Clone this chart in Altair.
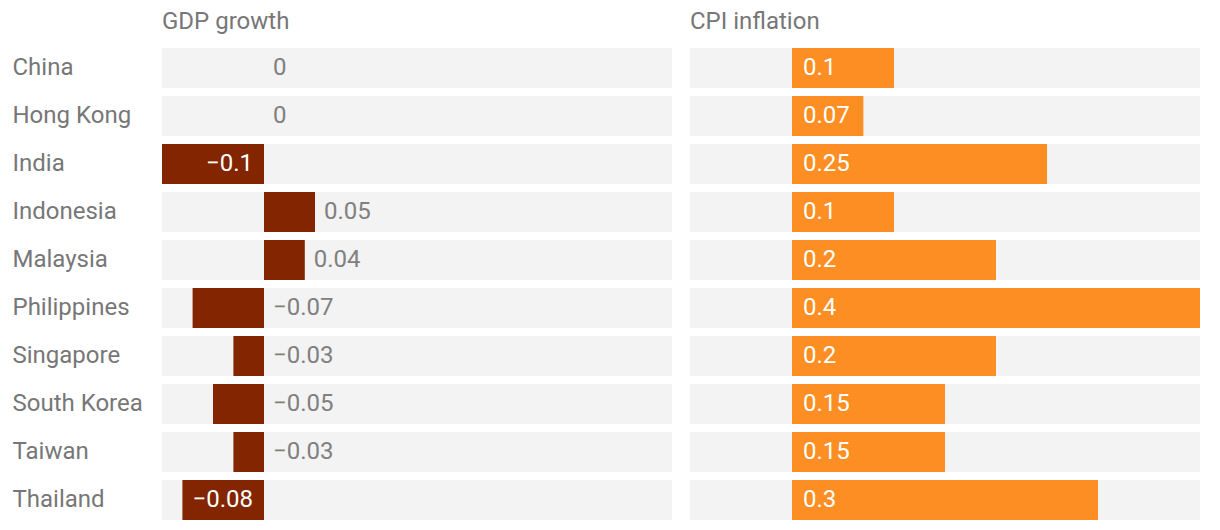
import altair as alt
import pandas as pd

countries = ["China", "Hong Kong", "India", "Indonesia", "Malaysia",
             "Philippines", "Singapore", "South Korea", "Taiwan", "Thailand"]
gdp = [0, 0, -0.1, 0.05, 0.04, -0.07, -0.03, -0.05, -0.03, -0.08]
cpi = [0.1, 0.07, 0.25, 0.1, 0.2, 0.4, 0.2, 0.15, 0.15, 0.3]
gdp_labels = ["0", "0", "\u22120.1", "0.05", "0.04", "\u22120.07", "\u22120.03",
              "\u22120.05", "\u22120.03", "\u22120.08"]
cpi_labels = ["0.1", "0.07", "0.25", "0.1", "0.2", "0.4", "0.2", "0.15", "0.15", "0.3"]

domain = [-0.1, 0.4]

df = pd.DataFrame({
    "country": countries,
    "gdp": gdp,
    "cpi": cpi,
    "gdp_label": gdp_labels,
    "cpi_label": cpi_labels,
})
df["bg_lo"] = domain[0]
df["bg_hi"] = domain[1]
df["zero"] = 0.0
df["gdp_pos"] = df["gdp"].clip(lower=0)
df["inside"] = df["gdp"] <= -0.08

FONT = "Roboto"
DARK = "#832600"
ORANGE = "#FC8E23"
BG = "#F3F3F3"
GRAY = "#808080"
FS = 24

W, H = 510, 480
xs = alt.Scale(domain=domain, nice=False, zero=False)
ys = alt.Scale(paddingInner=1/6, paddingOuter=1/12)

base = alt.Chart(df)

def bg(axis):
    return base.mark_bar(color=BG).encode(
        y=alt.Y("country:N", sort=countries, scale=ys, axis=axis, title=None),
        x=alt.X("bg_lo:Q", scale=xs, axis=None),
        x2="bg_hi:Q",
    )

left_axis = alt.Axis(labelAlign="left", labelPadding=150, ticks=False, domain=False,
                     labelFontSize=FS, labelColor="#777777", labelFont=FONT,
                     labelLimit=0)

gdp_bars = base.mark_bar(color=DARK).encode(
    y=alt.Y("country:N", sort=countries),
    x=alt.X("zero:Q", scale=xs),
    x2="gdp:Q",
)
gdp_in = base.transform_filter("datum.inside").mark_text(
    align="right", baseline="middle", dx=-11, fontSize=FS, color="white", font=FONT
).encode(y=alt.Y("country:N", sort=countries), x=alt.X("zero:Q", scale=xs), text="gdp_label:N")
gdp_out = base.transform_filter("!datum.inside").mark_text(
    align="left", baseline="middle", dx=9, fontSize=FS, color=GRAY, font=FONT
).encode(y=alt.Y("country:N", sort=countries), x=alt.X("gdp_pos:Q", scale=xs), text="gdp_label:N")

title_kw = dict(anchor="start", frame="group", fontSize=FS, color="#777777",
                fontWeight="normal", font=FONT, offset=10)

left = alt.layer(bg(left_axis), gdp_bars, gdp_in, gdp_out).properties(
    width=W, height=H, title=alt.TitleParams("GDP growth", **title_kw))

cpi_bars = base.mark_bar(color=ORANGE).encode(
    y=alt.Y("country:N", sort=countries),
    x=alt.X("zero:Q", scale=xs),
    x2="cpi:Q",
)
cpi_txt = base.mark_text(
    align="left", baseline="middle", dx=11, fontSize=FS, color="white", font=FONT
).encode(y=alt.Y("country:N", sort=countries), x=alt.X("zero:Q", scale=xs), text="cpi_label:N")

right = alt.layer(bg(None), cpi_bars, cpi_txt).properties(
    width=W, height=H, title=alt.TitleParams("CPI inflation", **title_kw))

chart = alt.hconcat(left, right, spacing=18).properties(
    padding={"left": 4, "top": 2, "right": 0, "bottom": 0}
).configure_view(strokeWidth=0, stroke="transparent")

chart.save("out.html", embed_options={"renderer": "svg", "actions": False})
